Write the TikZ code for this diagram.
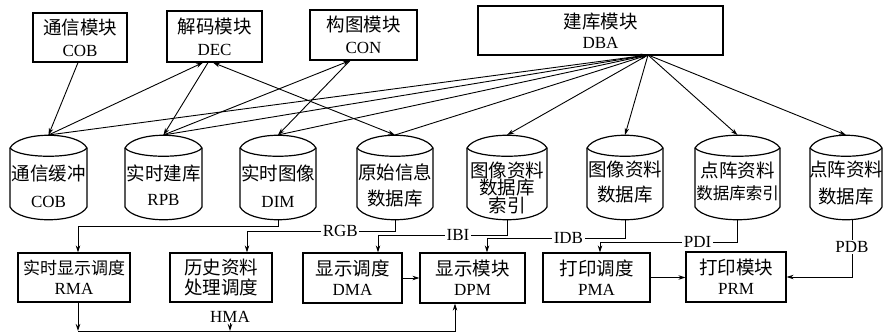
\documentclass[tikz,border=0pt]{standalone}
\usepackage{fontspec}
\setmainfont{Liberation Serif}
\newfontfamily\cjk{Noto Sans CJK SC}
\usetikzlibrary{arrows.meta}
\newcommand\hz[1]{{\cjk\fontsize{18.5}{18.5}\selectfont #1}}
\newcommand\drum[3]{%
  \pgfmathsetmacro\dl{#1}\pgfmathsetmacro\dr{#2}%
  \pgfmathsetmacro\dm{(#1+#2)/2}\pgfmathsetmacro\dw{(#2-#1)*0.12}%
  \draw[cylline] (\dl,148) .. controls ({\dl+\dw},131) and ({\dr-\dw},131) .. (\dr,148)
     -- (\dr,207) .. controls ({\dr-\dw},224) and ({\dl+\dw},224) .. (\dl,207) -- cycle;
  \draw[cylline] (\dl,148) .. controls ({\dl+\dw},159) and ({\dr-\dw},159) .. (\dr,148);
  \coordinate (#3t) at (\dm,135);
  \coordinate (#3b) at (\dm,220);
}
\tikzset{
  mod/.style={draw, line width=1.2pt, inner sep=0pt, align=center,
              font=\fontsize{17}{22}\selectfont},
  lowmod/.style={mod, font=\fontsize{17}{20}\selectfont},
  cylline/.style={line width=1.2pt},
  cyltxt/.style={inner sep=0pt, align=center},
  lab/.style={fill=white, inner sep=1.5pt, font=\fontsize{17}{17}\selectfont},
  conn/.style={line width=0.9pt},
  arr/.style={conn, -{Stealth[length=7pt,width=4.5pt]}},
  darr/.style={conn, {Stealth[length=7pt,width=4.5pt]}-{Stealth[length=7pt,width=4.5pt]}},
}
\begin{document}
\begin{tikzpicture}[x=1pt,y=-1pt]
\useasboundingbox (0,0) rectangle (885,334);

% top modules
\node[mod, minimum width=94, minimum height=49] (cobm) at (80,37.5) {\hz{通信模块}\\COB};
\node[mod, minimum width=95, minimum height=51] (dec) at (214.5,36.5) {\hz{解码模块}\\DEC};
\node[mod, minimum width=107, minimum height=50] (con) at (363.5,35) {\hz{构图模块}\\CON};
\node[mod, minimum width=245, minimum height=49, font=\fontsize{17}{20}\selectfont] (dba) at (600.5,30.5) {\hz{建库模块}\\DBA};
\coordinate (dbap) at (648,55);

% cylinders
\drum{10}{87}{ca}
\drum{125}{202}{cb}
\drum{240}{316}{cc}
\drum{357}{433}{cd}
\drum{467}{547}{ce}
\drum{587}{663}{cf}
\drum{695}{780}{cg}
\drum{810}{882}{ch}
\coordinate (chb) at (852,219.5);

\node[cyltxt, font=\fontsize{17}{27}\selectfont] (cax) at (48.5,186) {\hz{通信缓冲}\\COB};
\node[cyltxt, font=\fontsize{17}{25}\selectfont] (cbx) at (163.5,185.5) {\hz{实时建库}\\RPB};
\node[cyltxt, font=\fontsize{17}{27}\selectfont] (ccx) at (278,186) {\hz{实时图像}\\DIM};
\node[cyltxt, font=\fontsize{17}{26}\selectfont] (cdx) at (395,185) {\hz{原始信息}\\\hz{数据库}};
\node[cyltxt, font=\fontsize{17}{17.5}\selectfont] (cex) at (507,187.5) {\hz{图像资料}\\\hz{数据库}\\\hz{索引}};
\node[cyltxt, font=\fontsize{17}{25}\selectfont] (cfx) at (625,182.5) {\hz{图像资料}\\\hz{数据库}};
\node[cyltxt, font=\fontsize{17}{22}\selectfont] (cgx) at (737.5,181) {\hz{点阵资料}\\{\cjk\fontsize{16.5}{16.5}\selectfont 数据库索引}};
\node[cyltxt, font=\fontsize{17}{27}\selectfont] (chx) at (846,183.5) {\hz{点阵资料}\\\hz{数据库}};

% bottom modules
\node[lowmod, minimum width=112, minimum height=49] (rma) at (74,277.5) {{\cjk\fontsize{17}{17}\selectfont 实时显示调度}\\RMA};
\node[lowmod, minimum width=102, minimum height=49] (hma) at (221,277.5) {\hz{历史资料}\\\hz{处理调度}};
\node[lab, fill=none, inner sep=0pt] (hmal) at (230,317) {HMA};
\node[lowmod, minimum width=99, minimum height=50] (dma) at (352.5,278) {\hz{显示调度}\\DMA};
\node[lowmod, minimum width=105, minimum height=50] (dpm) at (472.5,278) {\hz{显示模块}\\DPM};
\node[lowmod, minimum width=107, minimum height=49] (pma) at (596.5,277.5) {\hz{打印调度}\\PMA};
\node[lowmod, minimum width=100, minimum height=50] (prm) at (736,277) {\hz{打印模块}\\PRM};

% top connectors
\draw[arr] (78,0 |- cobm.south) -- (cat);
\draw[arr] (cat) -- (203,0 |- dec.south);
\draw[arr] (208,0 |- dec.south) -- (cbt);
\draw[darr] (213,0 |- dec.south) -- (cdt);
\draw[arr] (cbt) -- (350,0 |- con.south);
\draw[arr] (350,0 |- con.south) -- (cct);
\draw[arr] (cat) -- (dbap);
\draw[arr] (cbt) -- (dbap);
\draw[arr] (cct) -- (dbap);
\draw[arr] (cdt) -- (dbap);
\draw[arr] (dbap) -- (cet);
\draw[arr] (dbap) -- (cft);
\draw[arr] (dbap) -- (cgt);
\draw[arr] (dbap) -- (cht);

% bottom connectors
\draw[arr] (ccb) -- (ccb |- 0,226) -| (78,0 |- rma.north);
\draw[arr] (cdb) -- (cdb |- 0,231) -- node[lab,pos=0.37]{RGB} (247,231) -- (247,0 |- hma.north);
\draw[arr] (ceb) -- (ceb |- 0,235) -- node[lab,pos=0.38]{IBI} (378,235) -- (378,0 |- dma.north);
\draw[arr] (cfb) -- (cfb |- 0,238) -- node[lab,pos=0.41]{IDB} (487,238) -- (487,0 |- dpm.north);
\draw[arr] (cgb) -- (cgb |- 0,242) -- node[lab,pos=0.29]{PDI} (600,242) -- (600,0 |- pma.north);
\draw[arr] (chb) -- node[lab,pos=0.48]{PDB} (852,277) -- (prm.east);
\draw[arr] (dma.east) -- (dpm.west);
\draw[arr] (pma.east) -- (pma.east -| prm.west);
\draw[arr] (78,0 |- rma.south) -- (78,331);
\draw[arr] (hmal.south) -- (hmal.south |- 0,331);
\draw[arr] (78,331) -- (455,331) -- (455,0 |- dpm.south);
\end{tikzpicture}
\end{document}
